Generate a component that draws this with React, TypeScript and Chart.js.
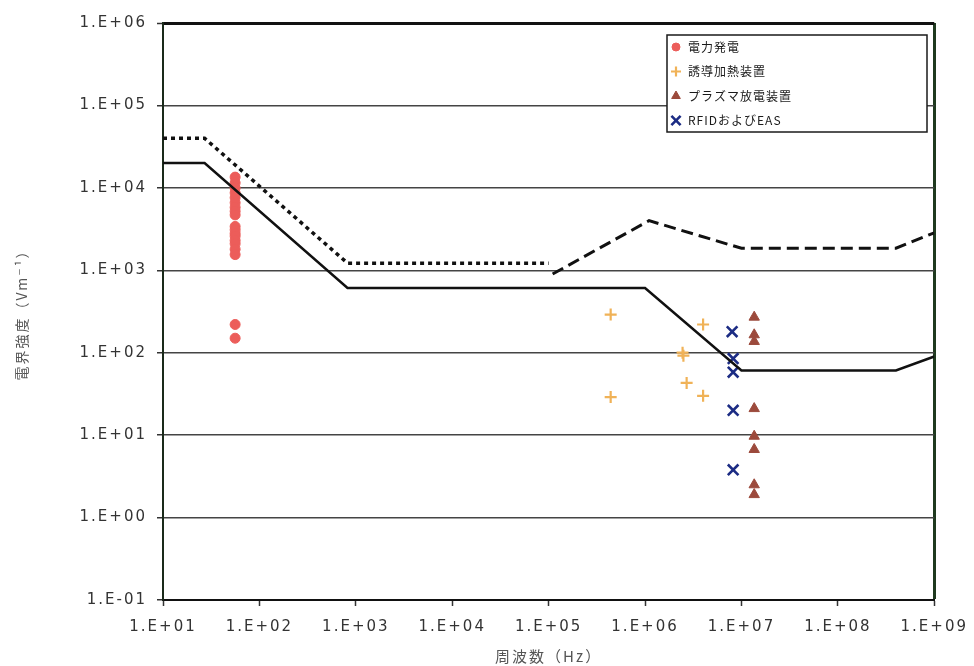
import React, { useEffect, useRef } from "react";
import { Chart, registerables } from "chart.js";
import { drawPoint } from "chart.js/helpers";

Chart.register(...registerables);

// ---- axis ticks ----
const xTickValues = [1e1, 1e2, 1e3, 1e4, 1e5, 1e6, 1e7, 1e8, 1e9];
const xTickLabels = ["1.E+01", "1.E+02", "1.E+03", "1.E+04", "1.E+05", "1.E+06", "1.E+07", "1.E+08", "1.E+09"];
const yTickValues = [1e-1, 1e0, 1e1, 1e2, 1e3, 1e4, 1e5, 1e6];
const yTickLabels = ["1.E-01", "1.E+00", "1.E+01", "1.E+02", "1.E+03", "1.E+04", "1.E+05", "1.E+06"];

// ---- series: 電力発電 ----
const powerFreq = [56, 56, 56, 56, 56, 56, 56, 56, 56, 56, 56, 56, 56, 56, 56, 56, 56, 56, 56];
const powerField = [13500, 11500, 10000, 8700, 7600, 6600, 5800, 5200, 4700, 3400, 3100, 2800, 2600, 2300, 2100, 1800, 1550, 220, 150];

// ---- series: 誘導加熱装置 ----
const inductionFreq = [4.4e5, 4.4e5, 2.45e6, 2.5e6, 2.7e6, 4.0e6, 4.0e6];
const inductionField = [290, 29, 100, 92, 43, 220, 30];

// ---- series: プラズマ放電装置 ----
const plasmaFreq = [1.356e7, 1.356e7, 1.356e7, 1.356e7, 1.356e7, 1.356e7, 1.356e7, 1.356e7];
const plasmaField = [270, 165, 137, 21, 9.7, 6.7, 2.5, 1.9];

// ---- series: RFIDおよびEAS ----
const rfidFreq = [8.0e6, 8.2e6, 8.2e6, 8.2e6, 8.2e6];
const rfidField = [180, 85, 58, 20, 3.8];

// ---- reference level lines ----
const solidFreq = [10, 27, 820, 1e6, 1e7, 4e8, 1e9];
const solidField = [20000, 20000, 610, 610, 61, 61, 90];

const dottedFreq = [10, 27, 820, 1e5];
const dottedField = [40000, 40000, 1220, 1220];

const dashedFreq = [1.1e5, 1.1e6, 1e7, 4e8, 1e9];
const dashedField = [900, 4000, 1850, 1850, 2850];

const toPts = (xs: number[], ys: number[]) => xs.map((x, i) => ({ x, y: ys[i] }));

const spacingPlugin = {
  id: "spacing",
  beforeDraw(chart: any) {
    (chart.ctx as any).letterSpacing = "2px";
  },
};

const boxLegendPlugin = {
  id: "boxLegend",
  afterDraw(chart: any, _args: any, opts: any) {
    const ctx = chart.ctx as CanvasRenderingContext2D;
    ctx.save();
    (ctx as any).letterSpacing = "1px";
    ctx.fillStyle = "#ffffff";
    ctx.fillRect(opts.x, opts.y, opts.w, opts.h);
    ctx.strokeStyle = "#1a1a1a";
    ctx.lineWidth = 1.5;
    ctx.strokeRect(opts.x, opts.y, opts.w, opts.h);
    const items = chart.data.datasets.filter((d: any) => !d.showLine);
    items.forEach((ds: any, i: number) => {
      const cy = opts.y + opts.first + i * opts.gap;
      const cx = opts.x + 9;
      ctx.fillStyle = ds.backgroundColor;
      ctx.strokeStyle = ds.borderColor;
      ctx.lineWidth = ds.borderWidth;
      drawPoint(ctx, { pointStyle: ds.pointStyle, radius: ds.legendRadius, rotation: 0, borderWidth: ds.borderWidth } as any, cx, cy);
      ctx.fillStyle = "#1a1a1a";
      ctx.font = '12px "Noto Sans CJK JP", "DejaVu Serif", serif';
      ctx.textBaseline = "middle";
      ctx.textAlign = "left";
      ctx.fillText(ds.label, opts.x + 21, cy);
    });
    ctx.restore();
  },
};

export default function App() {
  const ref = useRef<HTMLCanvasElement | null>(null);

  useEffect(() => {
    if (!ref.current) return;
    const tickFont = { family: '"DejaVu Sans", Verdana, sans-serif', size: 15 };
    const titleFont = { family: '"Noto Sans CJK JP", "DejaVu Sans", sans-serif', size: 15 };
    const yTitleFont = { family: '"Noto Sans CJK JP", "DejaVu Sans", sans-serif', size: 14 };

    const chart = new Chart(ref.current, {
      type: "scatter",
      data: {
        datasets: [
          {
            label: "solid",
            data: toPts(solidFreq, solidField),
            showLine: true,
            borderColor: "#111",
            backgroundColor: "#111",
            borderWidth: 2.5,
            pointRadius: 0,
            tension: 0,
            order: 0,
          },
          {
            label: "dotted",
            data: toPts(dottedFreq, dottedField),
            showLine: true,
            borderColor: "#111",
            backgroundColor: "#111",
            borderWidth: 3.5,
            borderDash: [4, 4],
            pointRadius: 0,
            tension: 0,
            order: 0,
          },
          {
            label: "dashed",
            data: toPts(dashedFreq, dashedField),
            showLine: true,
            borderColor: "#111",
            backgroundColor: "#111",
            borderWidth: 3,
            borderDash: [12, 6],
            pointRadius: 0,
            tension: 0,
            order: 0,
          },
          {
            label: "電力発電",
            data: toPts(powerFreq, powerField),
            pointStyle: "circle",
            pointRadius: 5,
            backgroundColor: "#ec5d5a",
            borderColor: "#ec5d5a",
            borderWidth: 1,
            legendRadius: 4,
            order: 1,
          } as any,
          {
            label: "誘導加熱装置",
            data: toPts(inductionFreq, inductionField),
            pointStyle: "cross",
            pointRadius: 6,
            backgroundColor: "#f0b257",
            borderColor: "#f0b257",
            borderWidth: 2.2,
            legendRadius: 5,
            order: 1,
          } as any,
          {
            label: "プラズマ放電装置",
            data: toPts(plasmaFreq, plasmaField),
            pointStyle: "triangle",
            pointRadius: 6,
            backgroundColor: "#9c4a3c",
            borderColor: "#9c4a3c",
            borderWidth: 1,
            legendRadius: 5,
            order: 1,
          } as any,
          {
            label: "RFIDおよびEAS",
            data: toPts(rfidFreq, rfidField),
            pointStyle: "crossRot",
            pointRadius: 7.5,
            backgroundColor: "#1c2c84",
            borderColor: "#1c2c84",
            borderWidth: 2.6,
            legendRadius: 6.5,
            order: 1,
          } as any,
        ],
      },
      options: {
        animation: false,
        responsive: false,
        devicePixelRatio: 1,
        layout: { padding: { left: 0, right: 37, top: 23, bottom: 0 } },
        plugins: {
          legend: { display: false },
          tooltip: { enabled: false },
          boxLegend: { x: 667, y: 35, w: 260, h: 97, first: 12, gap: 24.5 },
        } as any,
        scales: {
          x: {
            type: "logarithmic",
            min: 1e1,
            max: 1e9,
            afterBuildTicks: (scale: any) => {
              scale.ticks = xTickValues.map((v) => ({ value: v }));
            },
            afterFit: (scale: any) => {
              scale.height = 66;
            },
            ticks: {
              autoSkip: false,
              maxRotation: 0,
              padding: 12,
              color: "#333",
              font: tickFont,
              callback: (_v: any, i: number) => xTickLabels[i],
            },
            grid: {
              color: (c: any) => (c.tick && c.tick.value === 1e9 ? "#1f3a1f" : "rgba(0,0,0,0)"),
              lineWidth: (c: any) => (c.tick && c.tick.value === 1e9 ? 3 : 1),
              tickColor: "#333",
              tickWidth: 1.5,
              tickLength: 6,
            },
            border: { color: "#111", width: 2 },
            title: {
              display: true,
              text: "周波数（Hz）",
              color: "#555",
              font: titleFont,
              padding: { top: 0, bottom: 1 },
            },
          },
          y: {
            type: "logarithmic",
            min: 1e-1,
            max: 1e6,
            afterBuildTicks: (scale: any) => {
              scale.ticks = yTickValues.map((v) => ({ value: v }));
            },
            afterFit: (scale: any) => {
              scale.width = 163;
            },
            ticks: {
              autoSkip: false,
              padding: 10,
              color: "#333",
              font: tickFont,
              callback: (_v: any, i: number) => yTickLabels[i],
            },
            grid: {
              color: (c: any) => (c.tick && c.tick.value === 1e6 ? "#111" : "#444"),
              lineWidth: (c: any) => (c.tick && c.tick.value === 1e6 ? 3 : 1.5),
              tickColor: "#333",
              tickWidth: 1.5,
              tickLength: 6,
            },
            border: { color: "#1a2a1a", width: 2 },
            title: {
              display: true,
              text: "電界強度（Vm⁻¹）",
              color: "#555",
              font: yTitleFont,
              padding: { top: 13, bottom: 0 },
            },
          },
        },
      } as any,
      plugins: [spacingPlugin, boxLegendPlugin],
    });
    return () => chart.destroy();
  }, []);

  return (
    <div style={{ position: "absolute", left: 0, top: 0, width: 974, height: 666, background: "#fff" }}>
      <canvas ref={ref} width={974} height={666} />
    </div>
  );
}
